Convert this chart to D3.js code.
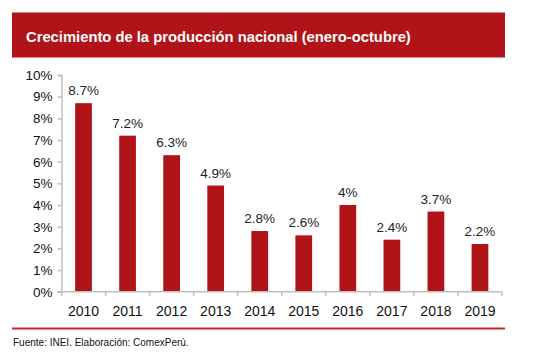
<!DOCTYPE html>
<html><head><meta charset="utf-8">
<script src="https://cdn.jsdelivr.net/npm/d3@7"></script>
<style>body{margin:0;background:#fff}svg{display:block}</style>
</head><body><svg id="c" width="536" height="359"></svg>
<script>
const years = ["2010","2011","2012","2013","2014","2015","2016","2017","2018","2019"];
const growth = [8.7, 7.2, 6.3, 4.9, 2.8, 2.6, 4, 2.4, 3.7, 2.2];
const valueLabels = ["8.7%","7.2%","6.3%","4.9%","2.8%","2.6%","4%","2.4%","3.7%","2.2%"];
const yTicks = [0,1,2,3,4,5,6,7,8,9,10];
const title = "Crecimiento de la producción nacional (enero-octubre)";
const source = "Fuente: INEI. Elaboración: ComexPerú.";

const red = "#b01418";
const svg = d3.select("#c");
const font = "Liberation Sans, Arial, sans-serif";

svg.append("rect").attr("x",12).attr("y",12.5).attr("width",493).attr("height",45).attr("fill",red);
const t = svg.append("text").attr("x",26).attr("y",42.3).attr("fill","#fff")
  .attr("font-family",font).attr("font-weight","bold").attr("font-size",16).text(title);
const w = t.node().getComputedTextLength();
t.attr("font-size", 16*385/w);

const x = d3.scaleBand().domain(years).range([61.5,502]).paddingInner(0.62).paddingOuter(0.31);
const y = d3.scaleLinear().domain([0,10]).range([291.7,75]);

svg.selectAll("rect.bar").data(growth).join("rect").attr("class","bar")
  .attr("x",(d,i)=>x(years[i])).attr("width",x.bandwidth())
  .attr("y",d=>y(d)).attr("height",d=>y(0)-y(d)).attr("fill",red);

svg.selectAll("text.val").data(growth).join("text").attr("class","val")
  .attr("x",(d,i)=>x(years[i])+x.bandwidth()/2).attr("y",d=>y(d)-8)
  .attr("text-anchor","middle").attr("font-family",font).attr("font-size",13.5).attr("fill","#222")
  .text((d,i)=>valueLabels[i]);

// y axis
const ya = svg.append("g").attr("transform","translate(61.5,0)")
  .call(d3.axisLeft(y).tickValues(yTicks).tickFormat(d=>d+"%").tickSize(4).tickPadding(5));
ya.select(".domain").attr("stroke","#bfbfbf").attr("stroke-width",1.5);
ya.selectAll(".tick line").attr("stroke","#bfbfbf").attr("stroke-width",1.5);
ya.selectAll(".tick text").attr("font-family",font).attr("font-size",13.5).attr("fill","#111");

// x axis
const xa = svg.append("g").attr("transform","translate(0,291.7)")
  .call(d3.axisBottom(x).tickSize(0).tickPadding(14));
xa.select(".domain").remove();
xa.selectAll(".tick text").attr("font-family",font).attr("font-size",14).attr("fill","#111");
svg.append("line").attr("x1",57.5).attr("x2",502).attr("y1",291.7).attr("y2",291.7)
  .attr("stroke","#bfbfbf").attr("stroke-width",1.5);
const bnd = d3.range(years.length+1).map(i=>61.5+i*(502-61.5)/years.length);
svg.selectAll("line.xt").data(bnd).join("line").attr("class","xt")
  .attr("x1",d=>d).attr("x2",d=>d).attr("y1",291.7).attr("y2",296)
  .attr("stroke","#bfbfbf").attr("stroke-width",1.5);

svg.append("line").attr("x1",12).attr("x2",505).attr("y1",328.5).attr("y2",328.5)
  .attr("stroke","#c8262c").attr("stroke-width",2);
svg.append("text").attr("x",13).attr("y",346).attr("font-family",font).attr("font-size",10)
  .attr("fill","#111").text(source);
</script></body></html>
